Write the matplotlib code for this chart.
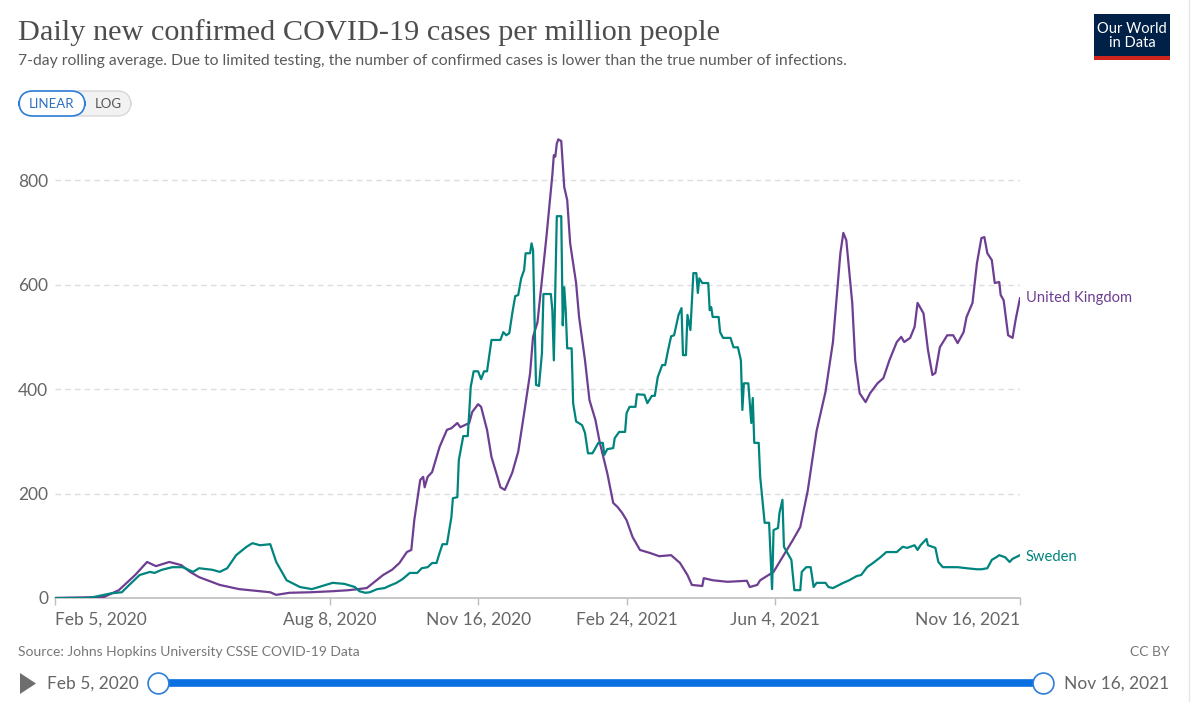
import matplotlib
matplotlib.use("Agg")
import matplotlib.pyplot as plt
from matplotlib.patches import FancyBboxPatch, Rectangle, Polygon
import numpy as np

# ---------------- data ----------------
uk_dates = [
    "2020-02-05", "2020-03-09", "2020-03-19", "2020-03-30", "2020-04-07", "2020-04-13",
    "2020-04-22", "2020-04-30", "2020-05-06", "2020-05-12", "2020-05-26", "2020-06-08",
    "2020-06-29", "2020-07-03", "2020-07-12", "2020-07-26", "2020-08-10", "2020-08-21",
    "2020-09-02", "2020-09-13", "2020-09-19", "2020-09-24", "2020-09-29", "2020-10-02",
    "2020-10-04", "2020-10-08", "2020-10-10", "2020-10-11", "2020-10-13", "2020-10-16",
    "2020-10-21", "2020-10-26", "2020-10-29", "2020-11-02", "2020-11-04", "2020-11-07",
    "2020-11-10", "2020-11-12", "2020-11-16", "2020-11-18", "2020-11-22", "2020-11-25",
    "2020-11-29", "2020-12-01", "2020-12-04", "2020-12-09", "2020-12-13", "2020-12-17",
    "2020-12-21", "2020-12-23", "2020-12-26", "2021-01-01", "2021-01-05", "2021-01-06",
    "2021-01-07", "2021-01-08", "2021-01-09", "2021-01-11", "2021-01-13", "2021-01-15",
    "2021-01-17", "2021-01-21", "2021-01-23", "2021-01-27", "2021-01-30", "2021-02-03",
    "2021-02-06", "2021-02-11", "2021-02-15", "2021-02-18", "2021-02-21", "2021-02-24",
    "2021-02-28", "2021-03-05", "2021-03-12", "2021-03-18", "2021-03-26", "2021-04-01",
    "2021-04-06", "2021-04-09", "2021-04-16", "2021-04-17", "2021-04-23", "2021-05-03",
    "2021-05-16", "2021-05-18", "2021-05-23", "2021-05-25", "2021-06-03", "2021-06-09",
    "2021-06-16", "2021-06-21", "2021-06-26", "2021-07-02", "2021-07-08", "2021-07-13",
    "2021-07-18", "2021-07-20", "2021-07-22", "2021-07-26", "2021-07-28", "2021-07-31",
    "2021-08-04", "2021-08-07", "2021-08-12", "2021-08-16", "2021-08-20", "2021-08-25",
    "2021-08-28", "2021-08-30", "2021-09-03", "2021-09-06", "2021-09-08", "2021-09-12",
    "2021-09-15", "2021-09-18", "2021-09-20", "2021-09-23", "2021-09-28", "2021-10-02",
    "2021-10-05", "2021-10-09", "2021-10-11", "2021-10-15", "2021-10-18", "2021-10-21",
    "2021-10-23", "2021-10-25", "2021-10-28", "2021-10-30", "2021-11-02", "2021-11-03",
    "2021-11-05", "2021-11-08", "2021-11-11", "2021-11-13", "2021-11-16",
]
uk_values = [
    0, 2, 15, 44, 69, 61,
    69, 63, 50, 40, 25, 17,
    11, 6, 10, 11, 13, 15,
    19, 44, 54, 67, 88, 92,
    149, 226, 232, 212, 232, 241,
    289, 322, 325, 335, 327, 331,
    335, 356, 371, 366, 322, 270,
    232, 212, 207, 240, 280, 354,
    430, 500, 528, 691, 810, 848,
    845, 870, 878, 875, 787, 762,
    679, 603, 538, 455, 379, 341,
    297, 239, 182, 174, 163, 149,
    117, 92, 86, 80, 82, 67,
    44, 25, 23, 38, 34, 31,
    33, 21, 25, 34, 50, 78,
    111, 136, 205, 320, 395, 490,
    660, 699, 685, 565, 455, 392,
    375, 392, 411, 421, 455, 490,
    500, 490, 498, 519, 565, 545,
    475, 427, 431, 480, 503, 503,
    488, 509, 538, 565, 641, 689,
    691, 660, 647, 603, 605, 580,
    570, 503, 498, 532, 574,
]

se_dates = [
    "2020-02-05", "2020-02-28", "2020-03-09", "2020-03-14", "2020-03-21", "2020-03-26",
    "2020-04-02", "2020-04-09", "2020-04-12", "2020-04-17", "2020-04-24", "2020-05-01",
    "2020-05-08", "2020-05-12", "2020-05-21", "2020-05-26", "2020-05-31", "2020-06-06",
    "2020-06-13", "2020-06-17", "2020-06-22", "2020-06-29", "2020-07-03", "2020-07-10",
    "2020-07-19", "2020-07-27", "2020-08-03", "2020-08-10", "2020-08-18", "2020-08-25",
    "2020-08-28", "2020-09-01", "2020-09-04", "2020-09-09", "2020-09-14", "2020-09-17",
    "2020-09-22", "2020-09-26", "2020-10-01", "2020-10-06", "2020-10-09", "2020-10-13",
    "2020-10-16", "2020-10-19", "2020-10-21", "2020-10-23", "2020-10-26", "2020-10-29",
    "2020-10-30", "2020-11-02", "2020-11-03", "2020-11-06", "2020-11-09", "2020-11-10",
    "2020-11-11", "2020-11-13", "2020-11-16", "2020-11-18", "2020-11-20", "2020-11-22",
    "2020-11-25", "2020-12-01", "2020-12-03", "2020-12-05", "2020-12-07", "2020-12-09",
    "2020-12-11", "2020-12-13", "2020-12-15", "2020-12-17", "2020-12-18", "2020-12-21",
    "2020-12-22", "2020-12-23", "2020-12-25", "2020-12-27", "2020-12-29", "2020-12-30",
    "2021-01-04", "2021-01-05", "2021-01-06", "2021-01-07", "2021-01-08", "2021-01-11",
    "2021-01-12", "2021-01-13", "2021-01-14", "2021-01-15", "2021-01-18", "2021-01-19",
    "2021-01-21", "2021-01-25", "2021-01-27", "2021-01-29", "2021-02-01", "2021-02-03",
    "2021-02-05", "2021-02-08", "2021-02-09", "2021-02-11", "2021-02-15", "2021-02-16",
    "2021-02-19", "2021-02-23", "2021-02-24", "2021-02-26", "2021-03-02", "2021-03-03",
    "2021-03-08", "2021-03-10", "2021-03-13", "2021-03-15", "2021-03-17", "2021-03-20",
    "2021-03-22", "2021-03-24", "2021-03-26", "2021-03-28", "2021-03-31", "2021-04-02",
    "2021-04-03", "2021-04-05", "2021-04-06", "2021-04-08", "2021-04-10", "2021-04-12",
    "2021-04-13", "2021-04-14", "2021-04-16", "2021-04-20", "2021-04-21", "2021-04-22",
    "2021-04-23", "2021-04-27", "2021-04-28", "2021-04-30", "2021-05-05", "2021-05-07",
    "2021-05-10", "2021-05-12", "2021-05-13", "2021-05-14", "2021-05-17", "2021-05-19",
    "2021-05-20", "2021-05-21", "2021-05-24", "2021-05-25", "2021-05-28", "2021-05-31",
    "2021-06-02", "2021-06-03", "2021-06-06", "2021-06-07", "2021-06-09", "2021-06-10",
    "2021-06-15", "2021-06-17", "2021-06-21", "2021-06-22", "2021-06-25", "2021-06-28",
    "2021-06-30", "2021-07-02", "2021-07-08", "2021-07-10", "2021-07-13", "2021-07-20",
    "2021-07-24", "2021-07-29", "2021-08-01", "2021-08-05", "2021-08-09", "2021-08-14",
    "2021-08-18", "2021-08-25", "2021-08-29", "2021-09-01", "2021-09-06", "2021-09-08",
    "2021-09-10", "2021-09-14", "2021-09-15", "2021-09-20", "2021-09-22", "2021-09-25",
    "2021-10-05", "2021-10-11", "2021-10-18", "2021-10-21", "2021-10-25", "2021-10-28",
    "2021-10-31", "2021-11-02", "2021-11-06", "2021-11-09", "2021-11-11", "2021-11-16",
]
se_values = [
    0, 0, 6, 9, 11, 25,
    44, 50, 48, 54, 59, 59,
    50, 57, 54, 50, 57, 82,
    98, 105, 101, 103, 69, 34,
    21, 17, 23, 29, 27, 21,
    13, 10, 11, 17, 19, 23,
    29, 36, 48, 48, 57, 59,
    67, 67, 86, 103, 103, 155,
    191, 193, 264, 310, 310, 354,
    404, 434, 434, 419, 434, 434,
    494, 494, 509, 503, 507, 545,
    578, 580, 612, 628, 660, 660,
    679, 666, 408, 406, 469, 582,
    582, 551, 455, 595, 731, 731,
    522, 595, 551, 478, 478, 373,
    338, 331, 316, 277, 277, 287,
    297, 297, 274, 285, 287, 306,
    318, 318, 354, 366, 366, 390,
    389, 373, 387, 387, 423, 446,
    446, 475, 501, 503, 542, 555,
    465, 465, 542, 513, 622, 622,
    584, 612, 603, 603, 551, 557,
    538, 538, 509, 498, 498, 480,
    480, 455, 360, 411, 411, 335,
    383, 297, 297, 232, 144, 144,
    17, 130, 134, 163, 188, 98,
    73, 15, 15, 50, 59, 59,
    21, 29, 29, 21, 19, 29,
    34, 42, 44, 59, 67, 78,
    88, 88, 98, 96, 101, 92,
    101, 113, 101, 96, 69, 59,
    59, 57, 55, 55, 57, 73,
    78, 82, 78, 69, 75, 82,
]

series_names = ["United Kingdom", "Sweden"]
tick_dates = ["2020-02-05", "2020-08-08", "2020-11-16", "2021-02-24", "2021-06-04", "2021-11-16"]
tick_labels = ["Feb 5, 2020", "Aug 8, 2020", "Nov 16, 2020", "Feb 24, 2021", "Jun 4, 2021", "Nov 16, 2021"]
y_ticks = [0, 200, 400, 600, 800]

title = "Daily new confirmed COVID-19 cases per million people"
subtitle = ("7-day rolling average. Due to limited testing, the number of confirmed cases "
            "is lower than the true number of infections.")
source = "Source: Johns Hopkins University CSSE COVID-19 Data"

# ---------------- style ----------------
UK_COL = "#6D3E91"
SE_COL = "#00847E"
GRAY = "#666666"
W, H = 1192, 702

def fx(x):
    return x / W

def fy(y):
    return 1 - y / H

plt.rcParams["font.family"] = ["Lato", "DejaVu Sans"]

fig = plt.figure(figsize=(W / 100, H / 100), dpi=100)
fig.patch.set_facecolor("white")

ax = fig.add_axes([fx(55), fy(598), fx(1020) - fx(55), fy(130) - fy(598)])

uk_d = np.array(uk_dates, dtype="datetime64[D]")
se_d = np.array(se_dates, dtype="datetime64[D]")
ax.plot(uk_d, uk_values, color=UK_COL, lw=1.6, solid_joinstyle="round", zorder=3)
ax.plot(se_d, se_values, color=SE_COL, lw=1.6, solid_joinstyle="round", zorder=3)

t_d = np.array(tick_dates, dtype="datetime64[D]")
ax.set_xlim(t_d[0], t_d[-1])
ax.set_ylim(0, 896)

for s in ["top", "right", "left"]:
    ax.spines[s].set_visible(False)
ax.spines["bottom"].set_color("#bdbdbd")
ax.spines["bottom"].set_linewidth(1.2)

ax.set_yticks(y_ticks)
ax.set_yticklabels([str(v) for v in y_ticks])
ax.tick_params(axis="y", length=0, pad=5, labelsize=12.5, labelcolor=GRAY)
for v in y_ticks[1:]:
    ax.axhline(v, color="#dddddd", lw=1, ls=(0, (4, 3)), zorder=1)

ax.set_xticks(t_d)
ax.set_xticklabels(tick_labels)
ax.tick_params(axis="x", length=5, width=1, color="#bdbdbd", pad=5,
               labelsize=12.5, labelcolor=GRAY)
xl = ax.get_xticklabels()
xl[0].set_ha("left")
xl[-1].set_ha("right")
for lab in xl[1:-1]:
    lab.set_ha("center")

# end labels
ax.annotate(series_names[0], xy=(uk_d[-1], uk_values[-1]), xytext=(4, 0),
            textcoords="offset points", color=UK_COL, fontsize=10.6, va="center", ha="left",
            annotation_clip=False)
ax.annotate(series_names[1], xy=(se_d[-1], se_values[-1]), xytext=(4, -1),
            textcoords="offset points", color=SE_COL, fontsize=10.6, va="center", ha="left",
            annotation_clip=False)

# ---------------- header ----------------
fig.text(fx(18), fy(33), title, fontsize=21.8, family=["Liberation Serif", "DejaVu Serif"],
         color="#4d4d4d", va="center", ha="left")
fig.text(fx(18), fy(61), subtitle, fontsize=11.3, color="#5b5b5b", va="center", ha="left")

# LINEAR / LOG toggle
fig.patches.append(FancyBboxPatch((fx(19), fy(116)), fx(131) - fx(19), fy(91) - fy(116),
                                  boxstyle="round,pad=0,rounding_size=0.012",
                                  transform=fig.transFigure, facecolor="#f2f2f2",
                                  edgecolor="#d8d8d8", lw=1, mutation_aspect=1.7))
fig.patches.append(FancyBboxPatch((fx(19), fy(116)), fx(85) - fx(19), fy(91) - fy(116),
                                  boxstyle="round,pad=0,rounding_size=0.012",
                                  transform=fig.transFigure, facecolor="white",
                                  edgecolor="#2f7ed8", lw=1.2, mutation_aspect=1.7))
fig.text(fx(52), fy(103.5), "LINEAR", fontsize=9.5, color="#2f6fc0", ha="center", va="center")
fig.text(fx(108), fy(103.5), "LOG", fontsize=9.5, color="#555555", ha="center", va="center")

# OWID logo
fig.patches.append(Rectangle((fx(1094), fy(56)), fx(1170) - fx(1094), fy(14) - fy(56),
                             transform=fig.transFigure, facecolor="#002147", edgecolor="none"))
fig.patches.append(Rectangle((fx(1094), fy(60)), fx(1170) - fx(1094), fy(56) - fy(60),
                             transform=fig.transFigure, facecolor="#ce261e", edgecolor="none"))
fig.text(fx(1132), fy(36), "Our World\nin Data", fontsize=10.5, color="white", ha="center",
         va="center", linespacing=0.95)

# ---------------- footer ----------------
fig.text(fx(18), fy(652), source, fontsize=10, color="#777777", ha="left", va="center")
fig.text(fx(1170), fy(652), "CC BY", fontsize=10, color="#777777", ha="right", va="center")

# timeline
fig.patches.append(Polygon([[fx(20), fy(673)], [fx(20), fy(694)], [fx(36), fy(683.5)]],
                           closed=True, transform=fig.transFigure, facecolor="#6e6e6e",
                           edgecolor="none"))
fig.text(fx(47), fy(684), "Feb 5, 2020", fontsize=12.5, color="#666666", ha="left", va="center")
fig.text(fx(1064), fy(684), "Nov 16, 2021", fontsize=12.5, color="#666666", ha="left", va="center")
fig.add_artist(plt.Line2D([fx(158), fx(1043)], [fy(683), fy(683)], transform=fig.transFigure,
                          color="#0a6fe0", lw=5.5, solid_capstyle="butt"))
for cx in (158, 1043):
    fig.add_artist(plt.Line2D([fx(cx)], [fy(683)], transform=fig.transFigure, marker="o",
                              markersize=15, markerfacecolor="white",
                              markeredgecolor="#2f7ed8", markeredgewidth=1.2))

# right border line
fig.add_artist(plt.Line2D([fx(1189), fx(1189)], [0, 1], transform=fig.transFigure,
                          color="#e6e6e6", lw=1))

fig.savefig("out.png", dpi=100, facecolor="white")
